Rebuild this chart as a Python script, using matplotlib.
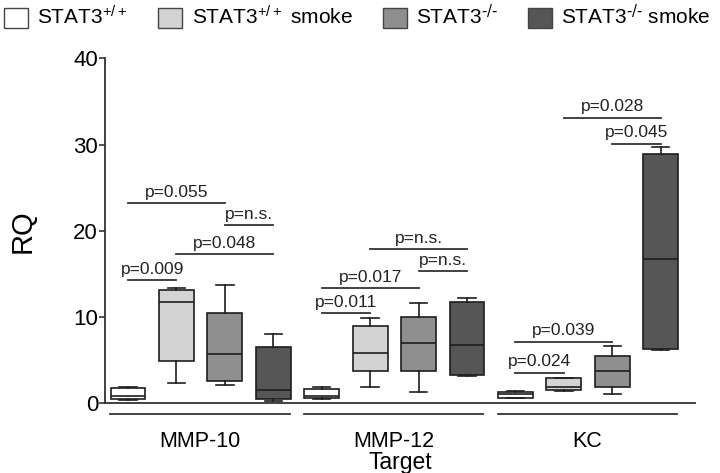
import numpy as np
import matplotlib
matplotlib.use("Agg")
import matplotlib.pyplot as plt
from matplotlib.patches import Patch

plt.rcParams["font.family"] = ["Liberation Sans", "DejaVu Sans"]
plt.rcParams["mathtext.default"] = "regular"

# data
groups = ["MMP-10", "MMP-12", "KC"]
conditions = ["STAT3$^{+/+}$", "STAT3$^{+/+}$ smoke",
              "STAT3$^{\\text{-/-}}$", "STAT3$^{\\text{-/-}}$ smoke"]
cond_colors = ["#ffffff", "#d3d3d3", "#8f8f8f", "#565656"]

# one entry per box, order: group by group, condition by condition
whislo = [0.35, 2.4, 2.1, 0.3, 0.5, 1.95, 1.37, 3.2, 0.6, 1.45, 1.07, 6.2]
q1 = [0.49, 4.97, 2.65, 0.48, 0.6, 3.73, 3.81, 3.27, 0.67, 1.57, 1.88, 6.3]
med = [0.87, 11.8, 5.7, 1.53, 0.87, 5.9, 7.06, 6.75, 1.07, 1.88, 3.81, 16.7]
q3 = [1.76, 13.1, 10.46, 6.55, 1.65, 9.03, 10.0, 11.74, 1.37, 2.92, 5.55, 28.95]
whishi = [1.95, 13.4, 13.7, 8.0, 1.88, 9.88, 11.6, 12.27, 1.45, 3.0, 6.67, 29.7]

# significance bars: (box a, box b, height, label)
sig_a = [0, 1, 2, 0, 4, 4, 6, 5, 8, 8, 10, 9]
sig_b = [1, 3, 3, 2, 5, 6, 7, 7, 9, 10, 11, 11]
sig_y = [14.3, 17.3, 20.67, 23.2, 10.46, 13.4, 15.3, 17.9, 3.58, 7.17, 30.1, 33.1]
sig_txt = ["p=0.009", "p=0.048", "p=n.s.", "p=0.055",
           "p=0.011", "p=0.017", "p=n.s.", "p=n.s.",
           "p=0.024", "p=0.039", "p=0.045", "p=0.028"]

fig = plt.figure(figsize=(7.2, 4.73), dpi=100)
ax = fig.add_axes([0.1458, 0.147, 0.819, 0.730])

positions = np.arange(1, len(med) + 1)
stats = []
for i in range(len(med)):
    stats.append(dict(med=med[i], q1=q1[i], q3=q3[i],
                      whislo=whislo[i], whishi=whishi[i], fliers=[]))

edge = "#1e1e1e"
bp = ax.bxp(stats, positions=positions, widths=0.72, patch_artist=True,
            showfliers=False,
            boxprops=dict(edgecolor=edge, linewidth=1.2),
            medianprops=dict(color=edge, linewidth=1.2),
            whiskerprops=dict(color=edge, linewidth=1.2),
            capprops=dict(color=edge, linewidth=1.2))
for i, box in enumerate(bp["boxes"]):
    box.set_facecolor(cond_colors[i % 4])

# significance lines
for a, b, y, t in zip(sig_a, sig_b, sig_y, sig_txt):
    xa, xb = positions[a], positions[b]
    ax.plot([xa, xb], [y, y], color="#333333", linewidth=1.3)
    ax.annotate(t, xy=((xa + xb) / 2, y), xytext=(0, 4.5),
                textcoords="offset points", ha="center", va="baseline",
                fontsize=12.5, color="#222222")

# group lines and labels under the axis
for g, name in enumerate(groups):
    x0 = positions[g * 4] - 0.37
    x1 = positions[g * 4 + 3] + 0.34
    ax.plot([x0, x1], [-1.25, -1.25], color="#333333", linewidth=1.3, clip_on=False)
    ax.text((x0 + x1) / 2, -4.4, name, ha="center", va="center", fontsize=15.5)

ax.text(0.5, -6.8, "Target", transform=ax.get_yaxis_transform(),
        ha="center", va="center", fontsize=16.5)

ax.set_xlim(0.525, 12.7)
ax.set_ylim(0, 40)
ax.set_yticks([0, 10, 20, 30, 40])
ax.set_xticks([])
ax.set_ylabel("RQ", fontsize=21, labelpad=26)
ax.tick_params(axis="y", labelsize=16, length=4, width=1.2, pad=1, color="#333333")
for s in ["top", "right"]:
    ax.spines[s].set_visible(False)
for s in ["left", "bottom"]:
    ax.spines[s].set_linewidth(1.3)
    ax.spines[s].set_color("#333333")

handles = [Patch(facecolor=c, edgecolor="#444444", linewidth=1.0) for c in cond_colors]
fig.legend(handles, conditions, loc="upper left", bbox_to_anchor=(0.0, 1.0),
           ncol=4, frameon=False, fontsize=15, borderaxespad=0, borderpad=0.2,
           handlelength=1.15, handleheight=1.1, handletextpad=0.45, columnspacing=1.45)

fig.savefig("out.png", dpi=100)
